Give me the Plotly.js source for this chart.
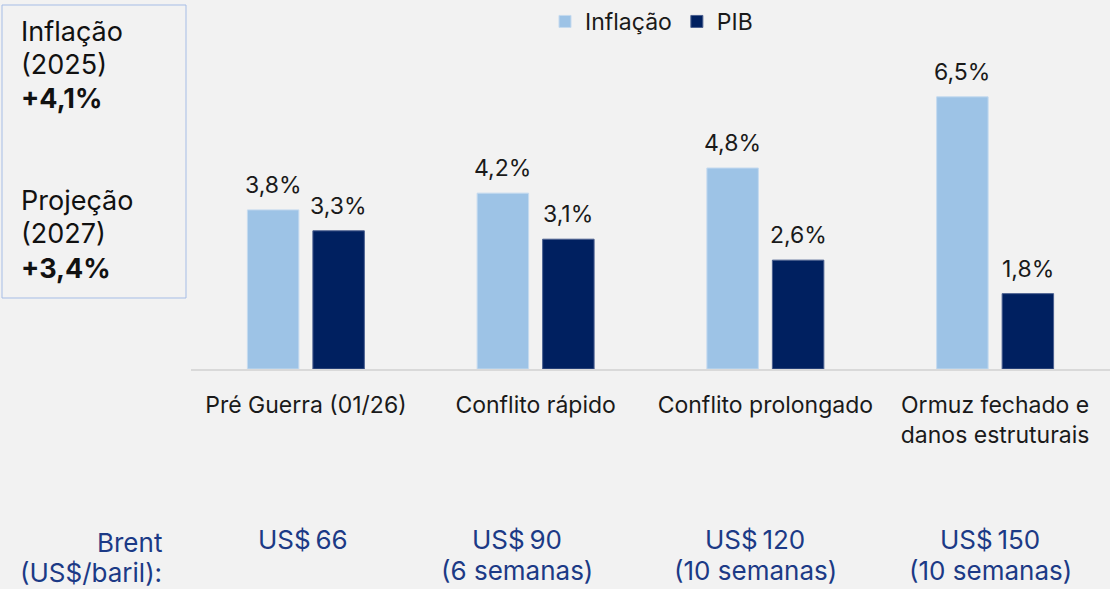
<!DOCTYPE html>
<html>
<head>
<meta charset="utf-8">
<script src="https://cdn.plot.ly/plotly-3.0.1.min.js"></script>
<style>
html,body{margin:0;padding:0;background:#f2f2f2;}
#chart{width:1110px;height:589px;}
</style>
</head>
<body>
<div id="chart"></div>
<script>
// ---- data ----
const categories = ['Pré Guerra (01/26)', 'Conflito rápido', 'Conflito prolongado', 'Ormuz fechado e<br>danos estruturais'];
const inflacao = [3.8, 4.2, 4.8, 6.5];
const pib = [3.3, 3.1, 2.6, 1.8];
const seriesNames = ['Inflação', 'PIB'];
const brentPrice = ['US$\u200966', 'US$\u200990', 'US$\u2009120', 'US$\u2009150'];
const brentWeeks = ['', '(6 semanas)', '(10 semanas)', '(10 semanas)'];
const brentLabel = ['Brent', '(US$/baril):'];
const sideBlock1 = ['Inflação', '(2025)', '+4,1%'];
const sideBlock2 = ['Projeção', '(2027)', '+3,4%'];

// ---- layout geometry (pixels) ----
const W = 1110, H = 589;
const M = {l: 191, r: 0, t: 34, b: 220};
const plotW = W - M.l - M.r, plotH = H - M.t - M.b;
const px = x => (x - M.l) / plotW;
const py = y => (H - M.b - y) / plotH;

const FONT = 'Inter, "Noto Sans", sans-serif';
const LBLUE = '#9dc3e6', NAVY = '#002060', TXT = '#1a1a1a', BRENT = '#1c3a86';

const barOffset = 0.1424; // half distance between grouped bar centres, in category units
const labelFmt = v => v.toFixed(1).replace('.', ',') + '%';

const traces = [
  {type: 'bar', name: seriesNames[0], x: categories, y: inflacao,
   marker: {color: LBLUE, line: {color: '#c5daef', width: 1}}, hoverinfo: 'skip'},
  {type: 'bar', name: seriesNames[1], x: categories, y: pib,
   marker: {color: NAVY, line: {color: '#4a5f8f', width: 1}}, hoverinfo: 'skip'}
];

const annotations = [];
// value labels above bars
[inflacao, pib].forEach((arr, s) => {
  arr.forEach((v, i) => {
    annotations.push({
      x: i + (s === 0 ? -barOffset : barOffset), xref: 'x',
      y: v, yref: 'y', yanchor: 'bottom', yshift: 9,
      text: labelFmt(v), showarrow: false,
      font: {family: FONT, size: 23, color: TXT}
    });
  });
});
// Brent row
const brentX = [303, 517, 755, 990];
brentPrice.forEach((t, i) => {
  annotations.push({x: px(brentX[i]), xref: 'paper', y: py(539), yref: 'paper', yanchor: 'middle',
    xanchor: 'center', text: t, showarrow: false, font: {family: FONT, size: 26, color: BRENT}});
  if (brentWeeks[i]) {
    annotations.push({x: px(brentX[i]), xref: 'paper', y: py(570), yref: 'paper', yanchor: 'middle',
      xanchor: 'center', text: brentWeeks[i], showarrow: false, font: {family: FONT, size: 26, color: BRENT}});
  }
});
annotations.push({x: px(164), xref: 'paper', y: py(542), yref: 'paper', xanchor: 'right', yanchor: 'middle',
  text: brentLabel[0], showarrow: false, font: {family: FONT, size: 26, color: BRENT}});
annotations.push({x: px(164), xref: 'paper', y: py(572), yref: 'paper', xanchor: 'right', yanchor: 'middle',
  text: brentLabel[1], showarrow: false, font: {family: FONT, size: 26, color: BRENT}});
// side box text
const sideY1 = [31, 64, 98], sideY2 = [200, 233, 268];
[[sideBlock1, sideY1], [sideBlock2, sideY2]].forEach(([lines, ys]) => {
  lines.forEach((t, j) => {
    annotations.push({x: px(19), xref: 'paper', y: py(ys[j]), yref: 'paper', xanchor: 'left', yanchor: 'middle',
      text: j === 2 ? '<b>' + t + '</b>' : t, showarrow: false,
      font: {family: FONT, size: 27, color: '#111111'}});
  });
});

const layout = {
  width: W, height: H,
  margin: M,
  paper_bgcolor: '#f2f2f2', plot_bgcolor: '#f2f2f2',
  separators: ',.',
  barmode: 'group', bargap: 0.43, bargroupgap: 0.214,
  font: {family: FONT, color: TXT},
  showlegend: true,
  legend: {orientation: 'h', x: px(545), xanchor: 'left', y: py(21), yanchor: 'middle',
    font: {family: FONT, size: 23, color: TXT}, bgcolor: 'rgba(0,0,0,0)', tracegroupgap: 0},
  xaxis: {type: 'category', range: [-0.5, 3.5], showgrid: false, zeroline: false,
    showline: true, linecolor: '#d9d9d9', linewidth: 2, ticks: '',
    tickfont: {family: FONT, size: 23, color: TXT}, ticklabelstandoff: 14, fixedrange: true},
  yaxis: {range: [0, 8], visible: false, showgrid: false, zeroline: false, fixedrange: true},
  shapes: [{type: 'rect', xref: 'paper', yref: 'paper', x0: px(2), x1: px(186), y0: py(5), y1: py(298),
    line: {color: '#a6bde6', width: 1}, fillcolor: 'rgba(0,0,0,0)'}],
  annotations: annotations
};

Plotly.newPlot('chart', traces, layout, {displayModeBar: false, staticPlot: true});
</script>
</body>
</html>
